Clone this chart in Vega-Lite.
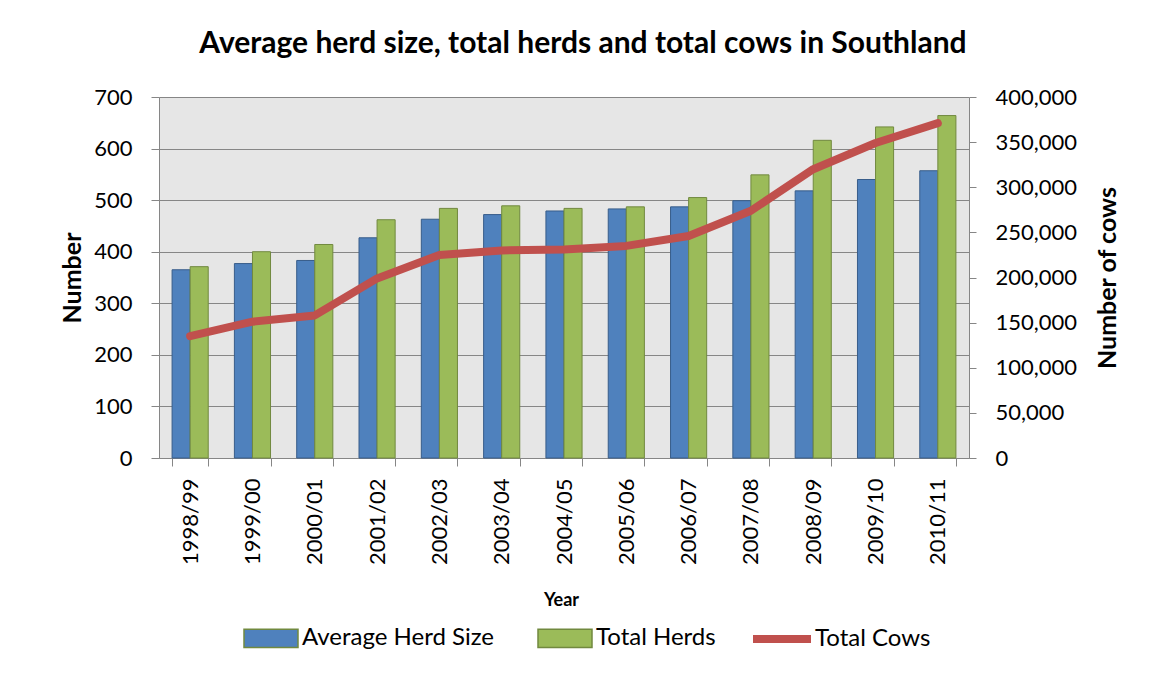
{
  "$schema": "https://vega.github.io/schema/vega-lite/v6.json",
  "width": 810,
  "height": 361,
  "autosize": {"type": "none"},
  "padding": {"left": 159, "top": 97, "right": 183, "bottom": 218},
  "background": "white",
  "config": {
    "view": {"fill": "#e6e6e6", "stroke": null},
    "font": "Lato"
  },
  "title": {
    "text": "Average herd size, total herds and total cows in Southland",
    "font": "Lato",
    "fontSize": 30,
    "fontWeight": "bold",
    "color": "black",
    "anchor": "middle",
    "frame": "group",
    "baseline": "alphabetic",
    "offset": 3,
    "dx": 19
  },
  "data": {
    "values": [
      {"Year": "1998/99", "Average Herd Size": 365, "Total Herds": 371, "Total Cows": 135000},
      {"Year": "1999/00", "Average Herd Size": 377, "Total Herds": 400, "Total Cows": 151000},
      {"Year": "2000/01", "Average Herd Size": 383, "Total Herds": 414, "Total Cows": 158000},
      {"Year": "2001/02", "Average Herd Size": 427, "Total Herds": 462, "Total Cows": 199000},
      {"Year": "2002/03", "Average Herd Size": 463, "Total Herds": 484, "Total Cows": 225000},
      {"Year": "2003/04", "Average Herd Size": 472, "Total Herds": 489, "Total Cows": 230000},
      {"Year": "2004/05", "Average Herd Size": 479, "Total Herds": 484, "Total Cows": 231000},
      {"Year": "2005/06", "Average Herd Size": 483, "Total Herds": 487, "Total Cows": 235000},
      {"Year": "2006/07", "Average Herd Size": 487, "Total Herds": 505, "Total Cows": 246000},
      {"Year": "2007/08", "Average Herd Size": 499, "Total Herds": 549, "Total Cows": 274000},
      {"Year": "2008/09", "Average Herd Size": 518, "Total Herds": 616, "Total Cows": 320000},
      {"Year": "2009/10", "Average Herd Size": 540, "Total Herds": 642, "Total Cows": 349000},
      {"Year": "2010/11", "Average Herd Size": 557, "Total Herds": 664, "Total Cows": 371000}
    ]
  },
  "layer": [
    {
      "transform": [{"fold": ["Average Herd Size", "Total Herds"], "as": ["series", "value"]}],
      "mark": {"type": "bar", "strokeWidth": 1},
      "encoding": {
        "x": {
          "field": "Year",
          "type": "nominal",
          "sort": null,
          "scale": {"paddingInner": 0.42, "paddingOuter": 0.21},
          "axis": {
            "title": "Year",
            "titleFont": "Lato",
            "titleFontSize": 18,
            "titleFontWeight": "bold",
            "titleColor": "black",
            "titleX": 402,
            "titleY": 142,
            "titleBaseline": "middle",
            "titleAlign": "center",
            "labelAngle": -90,
            "labelAlign": "right",
            "labelBaseline": "middle",
            "labelFont": "Lato",
            "labelFontSize": 22,
            "labelColor": "black",
            "labelPadding": 12,
            "labelOverlap": false,
            "labelBound": false,
            "tickBand": "extent",
            "tickSize": 8,
            "tickColor": "#868686",
            "domainColor": "#868686",
            "grid": false
          }
        },
        "xOffset": {
          "field": "series",
          "type": "nominal",
          "sort": ["Average Herd Size", "Total Herds"],
          "scale": {"paddingInner": 0, "paddingOuter": 0}
        },
        "y": {
          "field": "value",
          "type": "quantitative",
          "scale": {"domain": [0, 700], "nice": false},
          "axis": {
            "orient": "left",
            "title": "Number",
            "values": [0, 100, 200, 300, 400, 500, 600, 700],
            "grid": true,
            "gridColor": "#868686",
            "tickSize": 8,
            "tickColor": "#868686",
            "domainColor": "#868686",
            "labelFont": "Lato",
            "labelFontSize": 22,
            "labelColor": "black",
            "labelPadding": 19,
            "titleFont": "Lato",
            "titleFontSize": 25,
            "titleFontWeight": "bold",
            "titleColor": "black",
            "titleX": -87,
            "titleY": 180.5,
            "titleAngle": -90,
            "titleAlign": "center",
            "titleBaseline": "middle"
          }
        },
        "color": {
          "field": "series",
          "type": "nominal",
          "scale": {
            "domain": ["Average Herd Size", "Total Herds"],
            "range": ["#4f81bd", "#9bbb59"]
          },
          "legend": {
            "orient": "none",
            "legendX": 84,
            "legendY": 513,
            "direction": "horizontal",
            "title": null,
            "padding": 0,
            "labelFont": "Lato",
            "labelFontSize": 24,
            "labelColor": "black",
            "labelLimit": 400,
            "labelOffset": 3,
            "columnPadding": 40,
            "symbolType": "M-1,-0.34H1V0.34H-1Z",
            "symbolSize": 2916,
            "symbolStrokeWidth": 1.5,
            "symbolOpacity": 1
          }
        },
        "stroke": {
          "condition": {"test": "datum.series === 'Average Herd Size'", "value": "#385d8a"},
          "value": "#71893f"
        }
      }
    },
    {
      "mark": {"type": "line", "strokeWidth": 8, "strokeCap": "round", "strokeJoin": "round"},
      "encoding": {
        "x": {"field": "Year", "type": "nominal", "sort": null},
        "y": {
          "field": "Total Cows",
          "type": "quantitative",
          "scale": {"domain": [0, 400000], "nice": false},
          "axis": {
            "orient": "right",
            "title": "Number of cows",
            "values": [0, 50000, 100000, 150000, 200000, 250000, 300000, 350000, 400000],
            "format": ",.0f",
            "grid": false,
            "tickSize": 7,
            "tickColor": "#868686",
            "domainColor": "#868686",
            "labelFont": "Lato",
            "labelFontSize": 22,
            "labelColor": "black",
            "labelPadding": 19,
            "titleFont": "Lato",
            "titleFontSize": 25,
            "titleFontWeight": "bold",
            "titleColor": "black",
            "titleX": 138,
            "titleY": 180.5,
            "titleAngle": -90,
            "titleAlign": "center",
            "titleBaseline": "middle"
          }
        },
        "stroke": {
          "datum": "Total Cows",
          "type": "nominal",
          "scale": {"domain": ["Total Cows"], "range": ["#c0504d"]},
          "legend": {
            "orient": "none",
            "legendX": 590,
            "legendY": 509,
            "direction": "horizontal",
            "title": null,
            "padding": 0,
            "labelFont": "Lato",
            "labelFontSize": 24,
            "labelColor": "black",
            "labelLimit": 400,
            "labelOffset": 0,
            "symbolType": "stroke",
            "symbolSize": 3364,
            "symbolStrokeWidth": 8,
            "symbolOpacity": 1
          }
        }
      }
    }
  ],
  "resolve": {"scale": {"y": "independent"}, "axis": {"y": "independent"}}
}
